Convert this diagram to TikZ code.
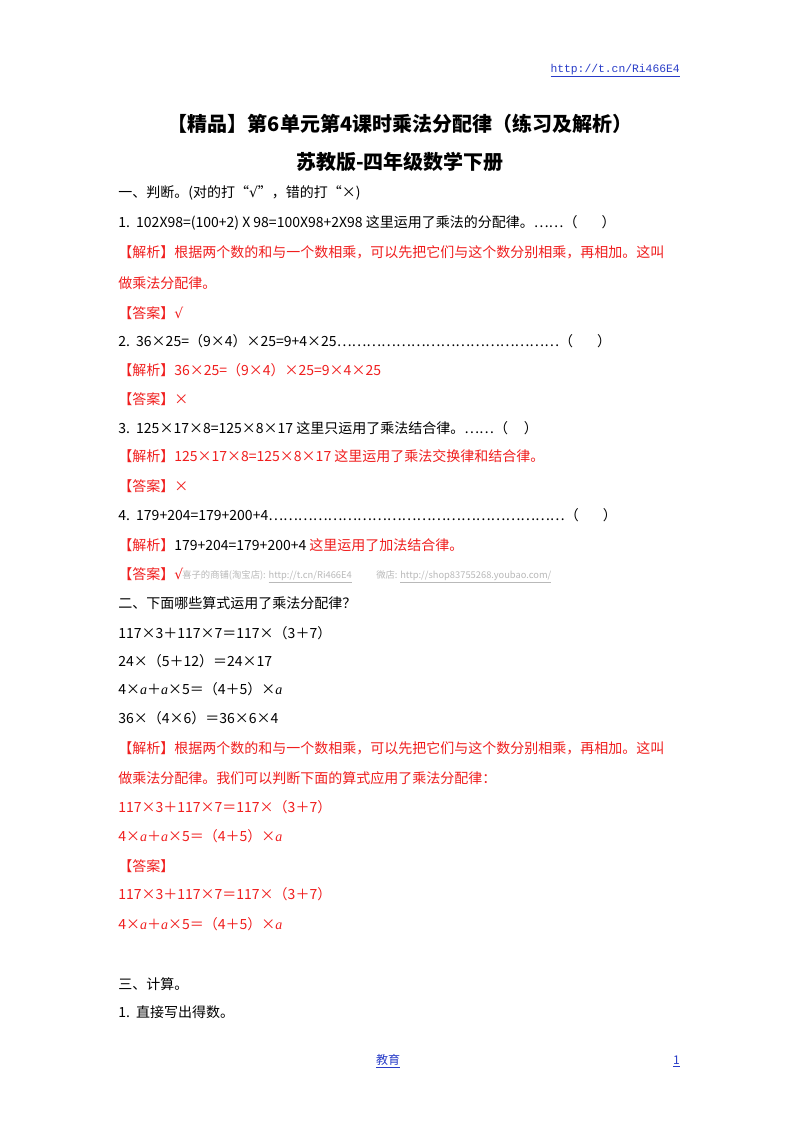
\documentclass[tikz,border=0pt]{standalone}
\usepackage{fontspec}
\setmainfont{Noto Sans CJK SC}
\newfontfamily\lmono{Liberation Mono}
\newfontfamily\ser{DejaVu Serif}
\newfontfamily\tms{Liberation Serif}
\newcommand{\ck}{{\ser √}}
\newcommand{\va}{{\tms\itshape a}}
\definecolor{red1}{RGB}{240,30,30}
\definecolor{link}{RGB}{40,60,200}
\definecolor{wm}{RGB}{185,185,185}
\begin{document}
\begin{tikzpicture}[x=0.75pt,y=-0.75pt,
  t/.style={anchor=base west,inner sep=0pt,font=\fontsize{10.5}{12}\selectfont},
  r/.style={t,text=red1},
  ttl/.style={anchor=base,inner sep=0pt,font=\fontsize{15}{18}\bfseries\selectfont}]
\useasboundingbox[fill=white] (0,0) rectangle (800,1132);
\node[anchor=base east,inner sep=0pt,font=\lmono\fontsize{8.5}{10}\selectfont,text=link] (hd) at (680,72) {\underline{http://t.cn/Ri466E4}};
\node[ttl] (t1) at (400,131) {【精品】第6单元第4课时乘法分配律（练习及解析）};
\node[ttl] (t2) at (400,169) {苏教版-四年级数学下册};
\node[t] (a1) at (118,197) {一、判断。(对的打“\ck”，错的打“×)};
\node[t] (a2) at (118,227) {1.\ \ 102X98=(100+2) X 98=100X98+2X98 这里运用了乘法的分配律。……（\hspace{18pt}）};
\node[r] (a3) at (118,257) {【解析】根据两个数的和与一个数相乘，可以先把它们与这个数分别相乘，再相加。这叫};
\node[r] (a4) at (118,288) {做乘法分配律。};
\node[r] (a5) at (118,318) {【答案】\ck};
\node[t] (a6) at (118,346) {2.\ \ 36×25=（9×4）×25=9+4×25………………………………………（\hspace{18pt}）};
\node[r] (a7) at (118,375) {【解析】36×25=（9×4）×25=9×4×25};
\node[r] (a8) at (118,404) {【答案】×};
\node[t] (a9) at (118,433) {3.\ \ 125×17×8=125×8×17 这里只运用了乘法结合律。……（\hspace{12pt}）};
\node[r] (a10) at (118,461) {【解析】125×17×8=125×8×17 这里运用了乘法交换律和结合律。};
\node[r] (a11) at (118,491) {【答案】×};
\node[t] (a12) at (118,520) {4.\ \ 179+204=179+200+4……………………………………………………（\hspace{18pt}）};
\node[r] (a13) at (118,550) {【解析】\textcolor{black}{179+204=179+200+4} 这里运用了加法结合律。};
\node[r] (a14) at (118,579) {【答案】\ck};
\node[anchor=base west,inner sep=0pt,font=\fontsize{7}{8}\selectfont,text=wm] (w1) at (182,578) {喜子的商铺(淘宝店): \underline{http://t.cn/Ri466E4}};
\node[anchor=base west,inner sep=0pt,font=\fontsize{7}{8}\selectfont,text=wm] (w2) at (376,578) {微店: \underline{http://shop83755268.youbao.com/}};
\node[t] (b1) at (118,608) {二、下面哪些算式运用了乘法分配律？};
\node[t] (b2) at (118,638) {117×3＋117×7＝117×（3＋7）};
\node[t] (b3) at (118,666) {24×（5＋12）＝24×17};
\node[t] (b4) at (118,694) {4×\va＋\va×5＝（4＋5）×\va};
\node[t] (b5) at (118,723) {36×（4×6）＝36×6×4};
\node[r] (b6) at (118,753) {【解析】根据两个数的和与一个数相乘，可以先把它们与这个数分别相乘，再相加。这叫};
\node[r] (b7) at (118,783) {做乘法分配律。我们可以判断下面的算式应用了乘法分配律：};
\node[r] (b8) at (118,812) {117×3＋117×7＝117×（3＋7）};
\node[r] (b9) at (118,841) {4×\va＋\va×5＝（4＋5）×\va};
\node[r] (b10) at (118,871) {【答案】};
\node[r] (b11) at (118,899) {117×3＋117×7＝117×（3＋7）};
\node[r] (b12) at (118,929) {4×\va＋\va×5＝（4＋5）×\va};
\node[t] (c1) at (118,989) {三、计算。};
\node[t] (c2) at (118,1017) {1.\ \ 直接写出得数。};
\node[anchor=base,inner sep=0pt,font=\fontsize{9}{10}\selectfont,text=link] (f1) at (388,1064) {\underline{教育}};
\node[anchor=base east,inner sep=0pt,font=\fontsize{9}{10}\selectfont,text=link] (f2) at (680,1064) {\underline{1}};
\end{tikzpicture}
\end{document}
